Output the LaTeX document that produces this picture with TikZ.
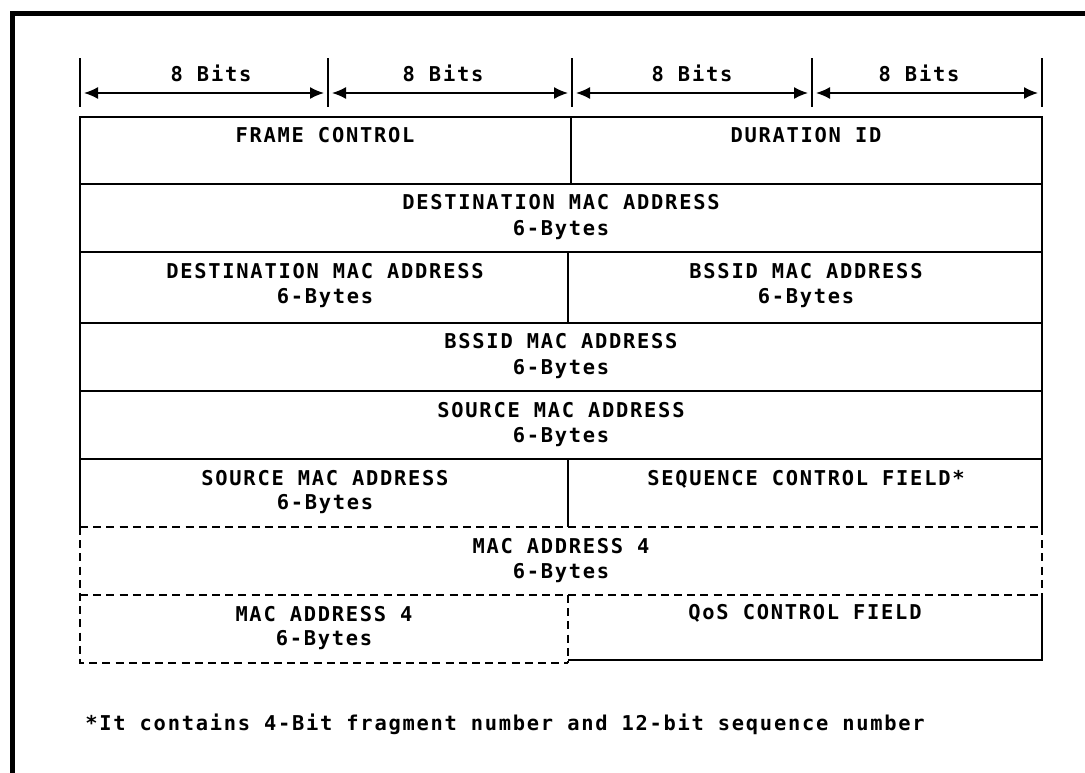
\documentclass[tikz,border=0pt]{standalone}
\usepackage{fontspec}
\usetikzlibrary{arrows.meta}
\newfontfamily\fieldfont{DejaVu Sans Mono Bold}[LetterSpace=8.5]
\begin{document}
\begin{tikzpicture}[x=0.5pt,y=-0.5pt,
  frame/.style={line width=2.5pt, line cap=rect},
  grid/.style={line width=0.85pt},
  dashgrid/.style={line width=0.85pt, dash pattern=on 4pt off 2.6pt},
  tick/.style={line width=0.85pt},
  span/.style={line width=0.8pt,
    {Latex[length=7pt,width=6pt]}-{Latex[length=7pt,width=6pt]},
    shorten <=2pt, shorten >=2pt},
  lbl/.style={font=\fontsize{10.2pt}{12pt}\fieldfont, anchor=base, inner sep=0pt},
]
\useasboundingbox (0,0) rectangle (1085,772);

% outer frame: left and top edges only
\coordinate (fl) at (12,772);
\coordinate (fc) at (12,13);
\coordinate (fr) at (1085,13);
\draw[frame] (fl) -- (fc) -- (fr);

% bit-width ticks
\foreach \n/\x in {0/80,1/328,2/572,3/812,4/1042} {
  \coordinate (tt\n) at (\x,58);
  \coordinate (tb\n) at (\x,107);
  \coordinate (ta\n) at (\x,93);
  \draw[tick] (tt\n) -- (tb\n);
}
\draw[span] (ta0) -- (ta1);
\draw[span] (ta1) -- (ta2);
\draw[span] (ta2) -- (ta3);
\draw[span] (ta3) -- (ta4);

\node[lbl] (w1) at (211,81) {8 Bits};
\node[lbl] (w2) at (443,81) {8 Bits};
\node[lbl] (w3) at (692,81) {8 Bits};
\node[lbl] (w4) at (919,81) {8 Bits};

% solid part of the header
\draw[grid] (80,527) -- (80,117) -- (1042,117) -- (1042,527);
\foreach \y in {184,252,323,391,459}
  \draw[grid] (80,\y) -- (1042,\y);
\draw[grid] (571,117) -- (571,184);
\draw[grid] (568,252) -- (568,323);
\draw[grid] (568,459) -- (568,527);

% optional fields (dashed)
\draw[dashgrid] (80,527) -- (1042,527);
\draw[dashgrid] (80,527) -- (80,663) -- (568,663);
\draw[dashgrid] (1042,527) -- (1042,595);
\draw[dashgrid] (80,595) -- (1042,595);
\draw[dashgrid] (568,595) -- (568,663);
\draw[grid] (568,660) -- (1042,660) -- (1042,595);

% field labels
\node[lbl] (fc1) at (325,142) {FRAME CONTROL};
\node[lbl] (du1) at (806,142) {DURATION ID};

\node[lbl] (da1) at (561,209) {DESTINATION MAC ADDRESS};
\node[lbl] (da2) at (561,235) {6-Bytes};

\node[lbl] (db1) at (325,278) {DESTINATION MAC ADDRESS};
\node[lbl] (db2) at (325,303) {6-Bytes};
\node[lbl] (bs1) at (806,278) {BSSID MAC ADDRESS};
\node[lbl] (bs2) at (806,303) {6-Bytes};

\node[lbl] (bt1) at (561,348) {BSSID MAC ADDRESS};
\node[lbl] (bt2) at (561,374) {6-Bytes};

\node[lbl] (sa1) at (561,417) {SOURCE MAC ADDRESS};
\node[lbl] (sa2) at (561,442) {6-Bytes};

\node[lbl] (sb1) at (325,485) {SOURCE MAC ADDRESS};
\node[lbl] (sb2) at (325,509) {6-Bytes};
\node[lbl] (sq1) at (806,485) {SEQUENCE CONTROL FIELD*};

\node[lbl] (ma1) at (561,553) {MAC ADDRESS 4};
\node[lbl] (ma2) at (561,578) {6-Bytes};

\node[lbl] (mb1) at (324,621) {MAC ADDRESS 4};
\node[lbl] (mb2) at (324,645) {6-Bytes};
\node[lbl] (qs1) at (805,619) {QoS CONTROL FIELD};

\node[lbl, anchor=base west] (note) at (85,730)
  {*It contains 4-Bit fragment number and 12-bit sequence number};
\end{tikzpicture}
\end{document}
